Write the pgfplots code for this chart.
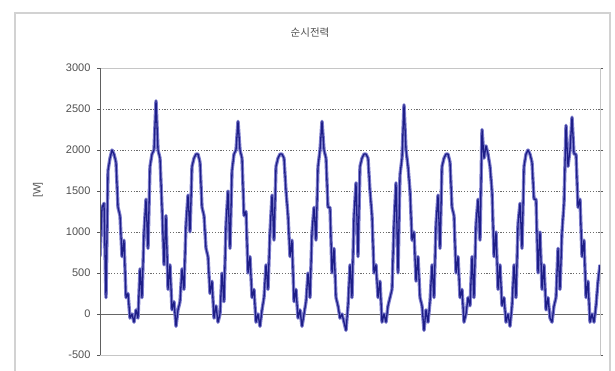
\documentclass[border=0pt]{standalone}
\usepackage{pgfplots}
\usepackage{pgfplotstable}
\pgfplotsset{compat=1.18}
\usepackage{fontspec}
\setmainfont{Liberation Sans}
\newfontfamily\kr{Noto Sans CJK KR}
\definecolor{navyline}{RGB}{30,30,135}
\definecolor{haloline}{RGB}{125,125,205}
\definecolor{txtgray}{RGB}{80,80,80}
\pgfplotstableread{
y
700
1300
1350
200
1750
1900
2000
1950
1850
1300
1200
700
900
200
250
-50
0
-100
50
-50
550
200
1000
1400
800
1800
1950
2000
2600
2000
1900
1300
600
1200
300
600
50
150
-150
50
150
550
300
1100
1450
1000
1800
1900
1950
1950
1850
1300
1200
800
700
250
400
-50
100
-100
0
500
150
1100
1500
800
1750
1950
2000
2350
2000
1900
1200
1250
500
700
200
300
-100
0
-150
50
200
600
300
1000
1450
900
1800
1900
1950
1950
1900
1500
1200
700
900
150
300
-50
50
-150
0
150
500
200
1000
1300
900
1800
2000
2350
2000
1900
1300
1300
500
800
200
100
-50
0
-100
-200
100
600
200
1200
1600
700
1800
1900
1950
1950
1900
1500
1200
500
600
200
400
-100
0
-100
100
200
300
1100
1600
500
1700
1900
2550
2000
1800
1500
900
1000
400
700
200
100
-200
50
-100
150
600
200
1100
1450
800
1800
1900
1950
1950
1850
1300
1200
500
700
200
300
-100
0
200
100
700
200
1100
1400
900
2250
1900
2050
1950
1800
1500
700
1000
300
600
100
200
-100
0
-150
100
600
200
1100
1350
800
1800
1950
2000
1950
1850
1400
1400
500
1000
300
600
50
200
-50
-100
100
200
800
300
1000
1350
2300
1800
2000
2400
1950
1950
1300
1400
700
900
200
400
-100
0
-100
100
400
600
}\powerdata
\begin{document}
\begin{tikzpicture}[x=1pt,y=1pt]
\useasboundingbox (0,0) rectangle (615,371);
\draw[gray!35, line width=1.6pt] (15,-5) -- (15,358) -- (610,358) -- (610,-5);
\begin{axis}[
  at={(100pt,16pt)}, anchor=south west,
  scale only axis, width=500pt, height=287pt,
  xmin=0, xmax=250, ymin=-500, ymax=3000,
  ytick={-500,0,...,3000}, xtick=\empty,
  ymajorgrids,
  grid style={dash pattern=on 1.2pt off 1.6pt, gray!85!black, line width=0.6pt},
  axis line style={gray!45, line width=0.8pt},
  tick align=outside, major tick length=3pt,
  ytick style={gray!70!black, line width=0.6pt},
  yticklabel style={font=\fontsize{11}{12}\selectfont, text=txtgray, xshift=-3pt},
  /pgf/number format/assume math mode=true,
  /pgf/number format/1000 sep={},
  extra y ticks={0}, extra y tick labels={},
  extra y tick style={grid style={solid, gray!80!black, line width=0.8pt}, major tick length=0pt},
  clip=true,
]
\addplot[color=haloline, line width=3.4pt, line join=round, no markers] table[x expr=\coordindex, y=y] {\powerdata};
\addplot[color=navyline, line width=1.3pt, line join=round, no markers] table[x expr=\coordindex, y=y] {\powerdata};
\end{axis}
\draw[gray!75!black, line width=0.8pt] (100,16) -- (100,303);
\node[font=\kr\fontsize{10.5}{12}\selectfont, text=txtgray] at (310,338) {순시전력};
\node[rotate=90, font=\fontsize{10.5}{12}\selectfont, text=txtgray] at (38,181) {[W]};
\end{tikzpicture}
\end{document}
